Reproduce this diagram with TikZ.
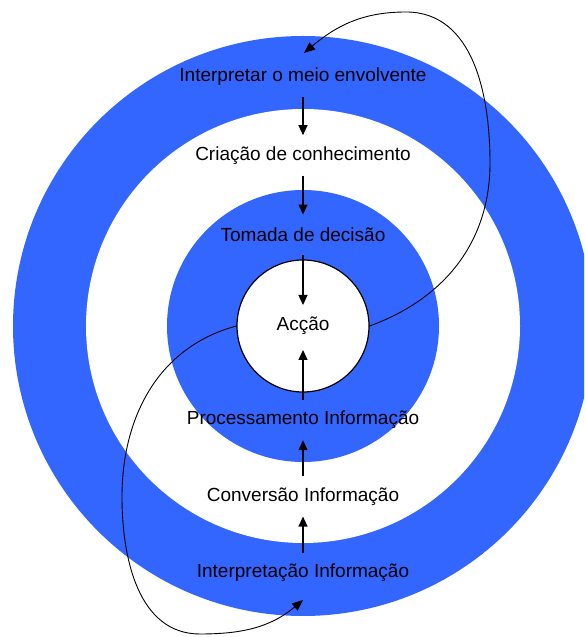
\documentclass[tikz,border=0pt]{standalone}
\usepackage{fontspec}
\setmainfont{Liberation Sans}
\usetikzlibrary{arrows.meta}
\usetikzlibrary{positioning}

\definecolor{ringblue}{RGB}{51,102,255}

\begin{document}
\begin{tikzpicture}[x=1pt,y=1pt,
    lbl/.style={minimum height=40pt,inner sep=0pt,font=\fontsize{19}{21}\selectfont},
    flow/.style={-{Triangle[length=10pt,width=9pt]},line width=1.3pt},
    feedback/.style={-{Triangle[length=11pt,width=9pt]},line width=0.9pt}]
  \useasboundingbox (0,0) rectangle (584,637);
  \clip (0,0) rectangle (584,637);
  \fill[white] (0,0) rectangle (584,637);

  % rings
  \foreach \r/\c in {290/ringblue,217/white,136/ringblue}
    \fill[\c] (303,311) circle (\r pt);

  \node[circle,draw,fill=white,line width=1.2pt,minimum size=132pt,inner sep=0pt,
        font=\fontsize{19}{21}\selectfont] (acao) at (303,311) {Acção};

  % upper half
  \node[lbl] (meio) at (303,560) {Interpretar o meio envolvente};
  \node[lbl] (criacao) [below=38pt of meio] {Criação de conhecimento};
  \node[lbl] (tomada) [below=39pt of criacao] {Tomada de decisão};

  % lower half
  \node[lbl] (proc) at (303,217) {Processamento Informação};
  \node[lbl] (conv) [below=36pt of proc] {Conversão Informação};
  \node[lbl] (interpinfo) [below=36pt of conv] {Interpretação Informação};

  \draw[flow] (meio) -- (criacao);
  \draw[flow] (criacao) -- (tomada);
  \draw[flow, shorten >=21pt] (tomada) -- (acao.center);
  \draw[flow, shorten >=24pt] (proc) -- (acao.center);
  \draw[flow] (conv) -- (proc);
  \draw[flow] (interpinfo) -- (conv);

  % feedback loops
  \coordinate (rmost) at (490,474);
  \coordinate (ttop) at (406,625);
  \coordinate (topin) at (304,584);
  \coordinate (lmost) at (122,140);
  \coordinate (bbot) at (200,3);
  \coordinate (botin) at (303,37);

  \draw[feedback] (acao.east) to[out=20,in=-90] (rmost) to[out=90,in=0] (ttop)
    to[out=180,in=40] (topin);
  \draw[feedback] (acao.west) to[out=195,in=90] (lmost) to[out=-90,in=180] (bbot)
    to[out=0,in=-140] (botin);
\end{tikzpicture}
\end{document}
